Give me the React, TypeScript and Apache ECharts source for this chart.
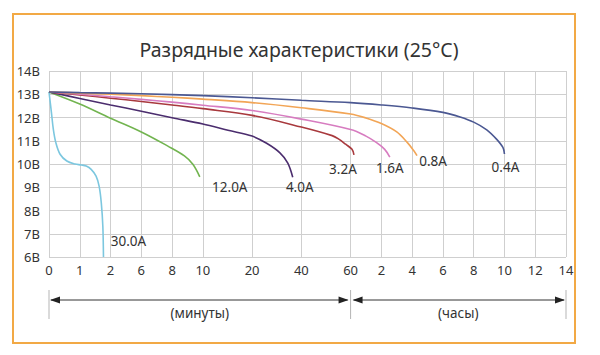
import React, { useEffect, useRef } from "react";
import * as echarts from "echarts";

const TITLE = "Разрядные характеристики (25°C)";
// time ticks in minutes, and their printed labels
const TICK_MINUTES = [0, 1, 2, 6, 8, 10, 20, 40, 60, 120, 240, 360, 480, 600, 720, 840];
const TICK_LABELS = ["0", "1", "2", "6", "8", "10", "20", "40", "60", "2", "4", "6", "8", "10", "12", "14"];
// relative widths of the gaps between ticks on the (irregular) time axis
const TICK_GAPS = [5, 5, 5, 5, 5, 8, 8, 8, 5, 5, 5, 5, 5, 5, 5];
const RANGE_LABELS = ["(минуты)", "(часы)"];

const SERIES_NAMES = ["30.0A", "12.0A", "4.0A", "3.2A", "1.6A", "0.8A", "0.4A"];
// [minutes, volts]
const C_30A = [[0, 13.1], [0.08, 12.2], [0.14, 11.5], [0.22, 10.93], [0.36, 10.42], [0.58, 10.13], [0.85, 10.0], [1.05, 9.96], [1.21, 9.91], [1.37, 9.77], [1.53, 9.48], [1.63, 9.04], [1.7, 8.32], [1.75, 7.3], [1.77, 6.0]];
const C_12A = [[0, 13.1], [1, 12.58], [2, 11.97], [6, 11.38], [7.7, 10.78], [8.8, 10.35], [9.35, 9.99], [9.8, 9.45]];
const C_4A = [[0, 13.1], [1, 12.82], [2, 12.54], [6, 12.27], [8, 11.99], [10, 11.72], [15.1, 11.45], [20, 11.2], [25.9, 10.89], [31.3, 10.48], [34.5, 10.04], [36.5, 9.43]];
const C_3_2A = [[0, 13.1], [1, 12.97], [2, 12.83], [6, 12.69], [8, 12.54], [10, 12.38], [20, 12.09], [40, 11.59], [52.5, 11.22], [55.2, 11.07], [58, 10.85], [62.8, 10.63], [66.6, 10.39]];
const C_1_6A = [[0, 13.1], [1, 13.0], [2, 12.89], [6, 12.78], [8, 12.66], [10, 12.53], [20, 12.3], [40, 11.93], [60, 11.48], [90, 11.2], [110, 10.93], [133, 10.63], [153, 10.3]];
const C_0_8A = [[0, 13.1], [1, 13.05], [2, 13.0], [6, 12.94], [8, 12.87], [10, 12.79], [20, 12.64], [40, 12.42], [60, 12.15], [90, 11.98], [120, 11.74], [180, 11.38], [220, 10.94], [246, 10.58], [259, 10.36]];
const C_0_4A = [[0, 13.1], [1, 13.07], [6, 13.02], [10, 12.94], [20, 12.85], [40, 12.74], [60, 12.64], [120, 12.54], [240, 12.41], [360, 12.22], [427, 12.02], [480, 11.8], [531, 11.47], [569, 11.07], [594, 10.71], [600, 10.43]];
const CURVES = [C_30A, C_12A, C_4A, C_3_2A, C_1_6A, C_0_8A, C_0_4A];

const COLORS = ["#7cc7df", "#72b450", "#4b2d6e", "#a8393d", "#d77cc0", "#f2a556", "#4b5892"];
const LABEL_OFFSETS = [[25, -16], [30, 10], [7, 10], [-11, 14], [0, 11], [16, 5], [1, 13]];

const FONT = "'Noto Sans', 'DejaVu Sans', sans-serif";

const TICK_POS = TICK_GAPS.reduce((acc, g) => { acc.push(acc[acc.length - 1] + g); return acc; }, [0] as number[]);

function toPos(m: number): number {
  for (let i = 0; i < TICK_MINUTES.length - 1; i++) {
    const a = TICK_MINUTES[i], b = TICK_MINUTES[i + 1];
    if (m <= b) return TICK_POS[i] + ((m - a) / (b - a)) * (TICK_POS[i + 1] - TICK_POS[i]);
  }
  return TICK_POS[TICK_POS.length - 1];
}

export default function App() {
  const ref = useRef<HTMLDivElement>(null);
  useEffect(() => {
    const chart = echarts.init(ref.current!, null, { renderer: "svg" });
    const series: any[] = CURVES.map((curve, i) => {
      const data = curve.map(([m, v]) => [toPos(m), v]);
      const last = data[data.length - 1];
      return {
        type: "line",
        name: SERIES_NAMES[i],
        data,
        smooth: 0.35,
        showSymbol: false,
        silent: true,
        lineStyle: { color: COLORS[i], width: 1.6 },
        markPoint: {
          silent: true,
          symbol: "circle",
          symbolSize: 0,
          itemStyle: { color: "transparent" },
          data: [{
            coord: last,
            label: {
              show: true,
              position: "inside",
              formatter: SERIES_NAMES[i],
              color: "#333",
              fontSize: 13.5,
              fontFamily: FONT,
              offset: LABEL_OFFSETS[i],
            },
          }],
        },
      };
    });
    chart.setOption({
      animation: false,
      backgroundColor: "#fff",
      title: {
        text: TITLE,
        left: 294,
        textAlign: "center",
        top: 34,
        textStyle: { fontSize: 19.5, fontWeight: "normal", color: "#333", fontFamily: FONT },
      },
      grid: { left: 49, right: 34, top: 71, bottom: 98 },
      xAxis: {
        type: "value",
        min: 0,
        max: TICK_POS[TICK_POS.length - 1],
        axisLine: { show: false },
        axisTick: { show: false, customValues: TICK_POS },
        axisLabel: {
          customValues: TICK_POS,
          formatter: (v: number) => {
            const i = TICK_POS.indexOf(Math.round(v));
            return i >= 0 ? TICK_LABELS[i] : "";
          },
          color: "#333",
          fontSize: 13,
          fontFamily: FONT,
          margin: 6,
        },
        splitLine: { show: true, lineStyle: { color: "#cfcfcf", width: 1 } },
      },
      yAxis: {
        type: "value",
        min: 6,
        max: 14,
        interval: 1,
        axisLine: { show: false },
        axisTick: { show: false },
        axisLabel: { formatter: (v: number) => `${v}В`, color: "#333", fontSize: 13, fontFamily: FONT, margin: 9 },
        splitLine: { show: true, lineStyle: { color: "#cfcfcf", width: 1 } },
      },
      series,
    });

    const px = (p: number) => chart.convertToPixel({ xAxisIndex: 0 }, p) as number;
    const x0 = px(TICK_POS[0]);
    const x1 = px(TICK_POS[TICK_MINUTES.indexOf(60)]);
    const x2 = px(TICK_POS[TICK_POS.length - 1]);
    const ay = 300;
    const arrow = (a: number, b: number) => [
      { type: "line", shape: { x1: a + 2, y1: ay, x2: b - 2, y2: ay }, style: { stroke: "#333", lineWidth: 1 } },
      { type: "polygon", shape: { points: [[a + 1, ay], [a + 11, ay - 3.5], [a + 11, ay + 3.5]] }, style: { fill: "#222" } },
      { type: "polygon", shape: { points: [[b - 1, ay], [b - 11, ay - 3.5], [b - 11, ay + 3.5]] }, style: { fill: "#222" } },
    ];
    const tick = (x: number) => ({ type: "line", shape: { x1: x, y1: 290, x2: x, y2: 319 }, style: { stroke: "#b5b5b5", lineWidth: 1 } });
    chart.setOption({
      graphic: [
        { type: "rect", shape: { x: 13, y: 14, width: 562, height: 329 }, style: { fill: "none", stroke: "#f2a945", lineWidth: 2 } },
        tick(x0), tick(x1), tick(x2),
        ...arrow(x0, x1 - 1),
        ...arrow(x1 + 1, x2),
        { type: "text", x: (x0 + x1) / 2, y: 313, style: { text: RANGE_LABELS[0], align: "center", verticalAlign: "middle", fill: "#333", fontSize: 13.5, fontFamily: FONT } },
        { type: "text", x: (x1 + x2) / 2, y: 313, style: { text: RANGE_LABELS[1], align: "center", verticalAlign: "middle", fill: "#333", fontSize: 13.5, fontFamily: FONT } },
      ],
    });
    return () => chart.dispose();
  }, []);
  return <div ref={ref} style={{ position: "fixed", left: 0, top: 0, width: 600, height: 355 }} />;
}
